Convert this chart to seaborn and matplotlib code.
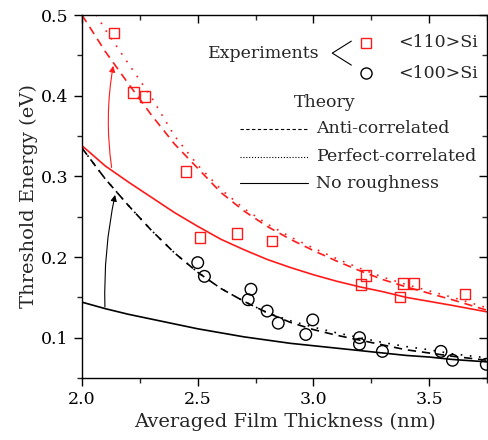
import matplotlib
matplotlib.use("Agg")
import matplotlib.pyplot as plt
import seaborn as sns
from matplotlib.ticker import MultipleLocator

# Dados
x_teoria = [2.0, 2.1, 2.2, 2.3, 2.4, 2.5, 2.6, 2.7, 2.8, 2.9, 3.0, 3.1, 3.2, 3.3, 3.4, 3.5, 3.6, 3.75]

si110_sem_rug = [0.338, 0.313, 0.293, 0.274, 0.255, 0.238, 0.222, 0.209, 0.197, 0.187,
                 0.178, 0.170, 0.163, 0.157, 0.150, 0.145, 0.140, 0.132]
si110_anti = [0.500, 0.455, 0.415, 0.376, 0.340, 0.310, 0.280, 0.257, 0.238, 0.222,
              0.208, 0.195, 0.183, 0.172, 0.163, 0.155, 0.147, 0.134]
si110_perf = [0.530, 0.482, 0.440, 0.398, 0.350, 0.314, 0.284, 0.260, 0.241, 0.225,
              0.211, 0.198, 0.186, 0.175, 0.166, 0.158, 0.150, 0.137]

si100_sem_rug = [0.144, 0.136, 0.129, 0.123, 0.117, 0.111, 0.106, 0.101, 0.097, 0.093,
                 0.090, 0.087, 0.084, 0.081, 0.078, 0.076, 0.073, 0.070]
si100_anti = [0.335, 0.297, 0.264, 0.233, 0.205, 0.181, 0.161, 0.145, 0.131, 0.119,
              0.110, 0.103, 0.097, 0.091, 0.085, 0.081, 0.077, 0.072]
si100_perf = [0.335, 0.297, 0.264, 0.233, 0.205, 0.181, 0.161, 0.145, 0.131, 0.121,
              0.113, 0.106, 0.100, 0.094, 0.089, 0.085, 0.080, 0.075]

exp110_x = [2.138, 2.222, 2.272, 2.450, 2.510, 2.671, 2.820, 3.207, 3.227, 3.374, 3.387, 3.435, 3.654]
exp110_y = [0.478, 0.404, 0.399, 0.306, 0.224, 0.229, 0.220, 0.166, 0.177, 0.150, 0.167, 0.167, 0.154]

exp100_x = [2.500, 2.529, 2.730, 2.718, 2.800, 2.848, 2.997, 2.967, 3.199, 3.199, 3.298, 3.551, 3.601, 3.747]
exp100_y = [0.193, 0.176, 0.160, 0.147, 0.133, 0.118, 0.122, 0.104, 0.100, 0.092, 0.083, 0.083, 0.072, 0.067]

sns.set_style("ticks")
plt.rcParams["font.family"] = ["DejaVu Serif"]

fig = plt.figure(figsize=(4.88, 4.40), dpi=100)
ax = fig.add_axes([82 / 488, 62 / 440, 405 / 488, 363 / 440])

VERM = "#ff1a1a"
TRACO = (0, (5, 3.5))
PONTO = (0, (1, 4.5))

# curvas teóricas
sns.lineplot(x=x_teoria, y=si110_sem_rug, color=VERM, lw=1.2, ax=ax, sort=False)
sns.lineplot(x=x_teoria, y=si110_anti, color=VERM, lw=1.2, ax=ax, sort=False, linestyle=TRACO)
sns.lineplot(x=x_teoria, y=si110_perf, color=VERM, lw=1.2, ax=ax, sort=False, linestyle=PONTO)
sns.lineplot(x=x_teoria, y=si100_sem_rug, color="black", lw=1.2, ax=ax, sort=False)
sns.lineplot(x=x_teoria, y=si100_anti, color="black", lw=1.2, ax=ax, sort=False, linestyle=TRACO)
sns.lineplot(x=x_teoria, y=si100_perf, color="black", lw=1.2, ax=ax, sort=False, linestyle=PONTO)

# pontos experimentais
sns.scatterplot(x=exp110_x, y=exp110_y, marker="s", s=55, facecolor="none",
                edgecolor=VERM, linewidth=1.0, ax=ax, zorder=5)
sns.scatterplot(x=exp100_x, y=exp100_y, marker="o", s=70, facecolor="none",
                edgecolor="black", linewidth=1.0, ax=ax, zorder=5)

# setas
ax.annotate("", xy=(2.135, 0.437), xytext=(2.128, 0.311),
            arrowprops=dict(arrowstyle="-|>", color=VERM, lw=0.8, mutation_scale=9,
                            connectionstyle="arc3,rad=-0.08", shrinkA=0, shrinkB=0))
ax.annotate("", xy=(2.143, 0.277), xytext=(2.099, 0.138),
            arrowprops=dict(arrowstyle="-|>", color="black", lw=0.8, mutation_scale=9,
                            connectionstyle="arc3,rad=-0.06", shrinkA=0, shrinkB=0))

ax.set_xlim(2.0, 3.75)
ax.set_ylim(0.05, 0.5)
ax.xaxis.set_minor_locator(MultipleLocator(0.25))
ax.yaxis.set_minor_locator(MultipleLocator(0.05))
ax.set_xticks([2.0, 2.5, 3.0, 3.5])
ax.set_xticklabels(["2.0", "2.5", "3.0", "3.5"])
ax.set_yticks([0.1, 0.2, 0.3, 0.4, 0.5])
ax.set_yticklabels(["0.1", "0.2", "0.3", "0.4", "0.5"])

for s in ax.spines.values():
    s.set_visible(True)
    s.set_linewidth(1.0)
    s.set_color("black")

ax.tick_params(axis="both", which="major", direction="out", length=6, width=1.0,
               labelsize=12.5, colors="black")
ax.tick_params(axis="both", which="minor", direction="out", length=3.5, width=1.0)
ax.tick_params(axis="x", which="both", top=True)
ax.tick_params(axis="y", which="both", right=True)
# ticks internos no topo e à direita
for t in ax.xaxis.get_major_ticks() + ax.xaxis.get_minor_ticks():
    t.tick2line.set_marker(3)
for t in ax.yaxis.get_major_ticks() + ax.yaxis.get_minor_ticks():
    t.tick2line.set_marker(0)

ax.set_xlabel("Averaged Film Thickness (nm)", fontsize=14, labelpad=3)
ax.set_ylabel("Threshold Energy (eV)", fontsize=14, labelpad=2)

# legenda montada à mão
tr = ax.transAxes
fs = 12.5
ax.text(0.310, 0.895, "Experiments", transform=tr, fontsize=fs, va="center", ha="left")
ax.plot([0.665, 0.618, 0.665], [0.928, 0.895, 0.862], color="black", lw=0.8, transform=tr)
ax.plot([0.701], [0.924], marker="s", ms=7, mfc="none", mec=VERM, mew=1.0, transform=tr, ls="none")
ax.plot([0.701], [0.841], marker="o", ms=8, mfc="none", mec="black", mew=1.0, transform=tr, ls="none")
ax.text(0.781, 0.923, "<110>Si", transform=tr, fontsize=fs, va="center", ha="left")
ax.text(0.781, 0.840, "<100>Si", transform=tr, fontsize=fs, va="center", ha="left")
ax.text(0.600, 0.760, "Theory", transform=tr, fontsize=fs, va="center", ha="center")
legenda = [("Anti-correlated", (0, (3, 2.2)), 0.686),
           ("Perfect-correlated", (0, (1, 1.6)), 0.609),
           ("No roughness", "-", 0.537)]
for rotulo, estilo, yy in legenda:
    ax.plot([0.389, 0.557], [yy, yy], color="black", lw=0.8, linestyle=estilo, transform=tr)
    ax.text(0.579, yy, rotulo, transform=tr, fontsize=fs, va="center", ha="left")

fig.savefig("out.png", dpi=100)
